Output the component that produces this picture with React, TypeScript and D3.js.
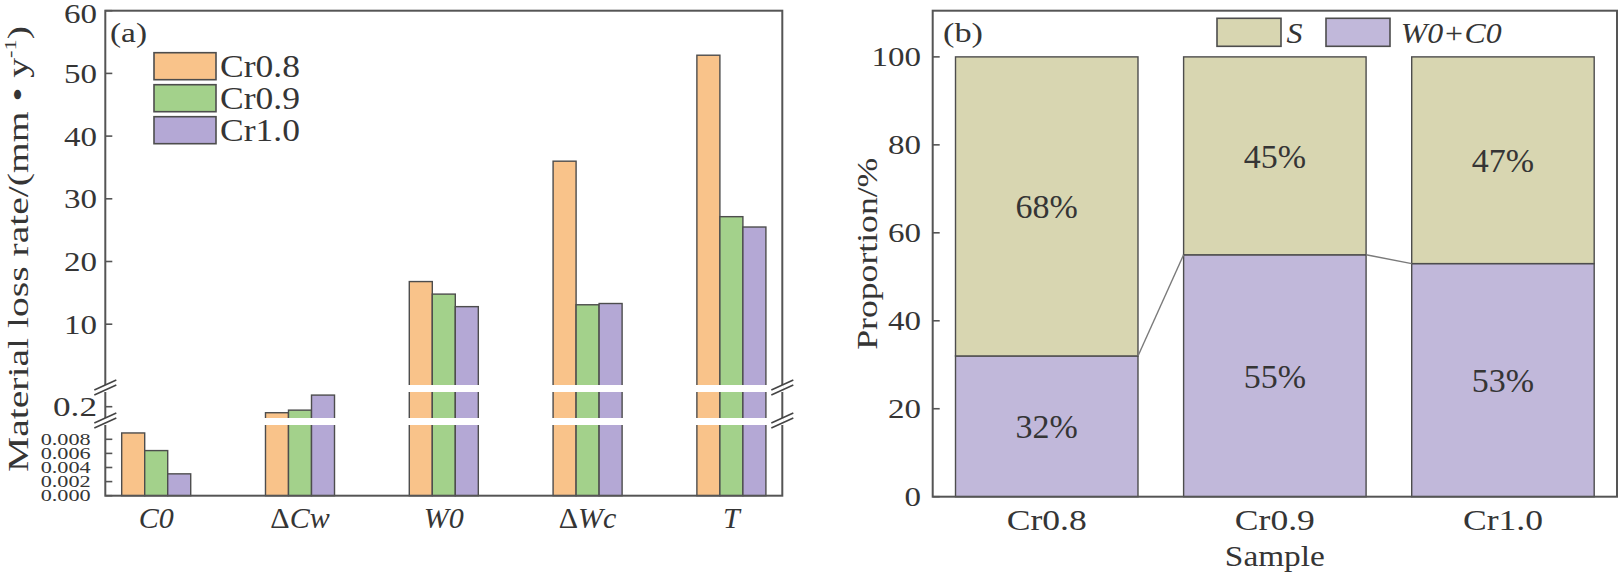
import { useEffect, useRef } from 'react';
import * as d3 from 'd3';

// panel (a) data
const categories = ['C0', 'ΔCw', 'W0', 'ΔWc', 'T'];
const seriesNames = ['Cr0.8', 'Cr0.9', 'Cr1.0'];
const cr08 = [0.0089, 0.186, 16.8, 36.0, 52.9];
const cr09 = [0.0064, 0.192, 14.8, 13.1, 27.15];
const cr10 = [0.0031, 0.227, 12.8, 13.3, 25.5];
const upperTicks = [10, 20, 30, 40, 50, 60];
const middleTicks = [0.2];
const lowerTicks = [0, 0.002, 0.004, 0.006, 0.008];

// panel (b) data
const samples = ['Cr0.8', 'Cr0.9', 'Cr1.0'];
const woPlusCo = [32, 55, 53];
const sPart = [68, 45, 47];
const propTicks = [0, 20, 40, 60, 80, 100];

const FONT = '"Liberation Serif", "Times New Roman", serif';
const INK = '#353535';
const EDGE = '#4d4d4d';
const seriesColors = ['#F9C38A', '#A3D18B', '#B4A8D5'];
const sColor = '#D8D6B1';
const wcColor = '#C1B8DA';

// width of a numeric label in the picture (digits are drawn wide)
const numWidth = (s: string, digit: number, dot: number) =>
  s.split('').reduce((acc, ch) => acc + (ch === '.' ? dot : digit), 0);

const App = () => {
  const ref = useRef<SVGSVGElement | null>(null);

  useEffect(() => {
    if (!ref.current) return;
    document.body.style.margin = '0';
    const svg = d3.select(ref.current).attr('font-family', FONT);
    svg.selectAll('*').remove();

    // ---------- panel (a) ----------
    const aLeft = 105.3, aRight = 782.3, aTop = 10.7, aBottom = 495.7;
    const gapUp = [385, 392];
    const gapLow = [418, 425];

    const yUp = d3.scaleLinear().domain([0, 60]).range([386.9, aTop]);
    const yMid = d3.scaleLinear().domain([0.15, 0.25]).range([428.2, 385.2]);
    const yLow = d3.scaleLinear().domain([0, 0.01]).range([aBottom, 425.2]);
    const yA = (v: number) => (v <= 0.01 ? yLow(v) : v <= 0.3 ? yMid(v) : yUp(v));

    const x0 = d3.scaleBand<string>()
      .domain(categories)
      .range([aLeft, aRight])
      .paddingInner(0.52)
      .paddingOuter(0.114);
    const x1 = d3.scaleBand<string>()
      .domain(seriesNames)
      .range([0, x0.bandwidth()]);

    const seriesValues = [cr08, cr09, cr10];
    const a = svg.append('g').attr('font-family', FONT);

    // bars
    seriesNames.forEach((name, si) => {
      a.append('g')
        .selectAll('rect')
        .data(categories.map((c, i) => ({ c, v: seriesValues[si][i] })))
        .enter()
        .append('rect')
        .attr('x', d => (x0(d.c) || 0) + (x1(name) || 0))
        .attr('y', d => yA(d.v))
        .attr('width', x1.bandwidth())
        .attr('height', d => aBottom - yA(d.v))
        .attr('fill', seriesColors[si])
        .attr('stroke', EDGE)
        .attr('stroke-width', 1.4);
    });

    // frame
    a.append('rect')
      .attr('x', aLeft).attr('y', aTop)
      .attr('width', aRight - aLeft).attr('height', aBottom - aTop)
      .attr('fill', 'none').attr('stroke', '#555').attr('stroke-width', 2);

    // white bands for the axis breaks
    [gapUp, gapLow].forEach(g => {
      a.append('rect')
        .attr('x', aLeft - 1.5).attr('y', g[0])
        .attr('width', aRight - aLeft + 3).attr('height', g[1] - g[0])
        .attr('fill', '#ffffff');
    });

    // break slashes on both sides
    [aLeft, aRight].forEach(xx => {
      [gapUp[0], gapUp[1] - 2, gapLow[0], gapLow[1] - 2].forEach(yy => {
        a.append('line')
          .attr('x1', xx - 11).attr('y1', yy + 5)
          .attr('x2', xx + 11).attr('y2', yy - 5)
          .attr('stroke', '#444').attr('stroke-width', 1.6);
      });
    });

    // y ticks
    const tickA = (yy: number) =>
      a.append('line')
        .attr('x1', aLeft).attr('x2', aLeft + 7)
        .attr('y1', yy).attr('y2', yy)
        .attr('stroke', '#555').attr('stroke-width', 1.6);

    upperTicks.forEach(t => {
      tickA(yUp(t));
      a.append('text')
        .attr('x', 97).attr('y', Math.max(yUp(t), 14)).attr('dy', '0.35em')
        .attr('text-anchor', 'end')
        .attr('font-size', 27)
        .attr('textLength', numWidth(String(t), 16.5, 11))
        .attr('lengthAdjust', 'spacingAndGlyphs')
        .attr('fill', INK)
        .text(String(t));
    });
    middleTicks.forEach(t => {
      tickA(yMid(t));
      a.append('text')
        .attr('x', 97).attr('y', yMid(t)).attr('dy', '0.35em')
        .attr('text-anchor', 'end')
        .attr('font-size', 27)
        .attr('textLength', numWidth(String(t), 16.5, 11))
        .attr('lengthAdjust', 'spacingAndGlyphs')
        .attr('fill', INK)
        .text(String(t));
    });
    lowerTicks.forEach(t => {
      tickA(yLow(t));
      a.append('text')
        .attr('x', 90.7).attr('y', yLow(t)).attr('dy', '0.35em')
        .attr('text-anchor', 'end')
        .attr('font-size', 16)
        .attr('textLength', 50)
        .attr('lengthAdjust', 'spacingAndGlyphs')
        .attr('fill', INK)
        .text(t.toFixed(3));
    });

    // category labels
    categories.forEach(c => {
      const t = a.append('text')
        .attr('x', (x0(c) || 0) + x0.bandwidth() / 2)
        .attr('y', 528)
        .attr('text-anchor', 'middle')
        .attr('font-size', 30)
        .attr('fill', INK);
      if (c.startsWith('Δ')) {
        t.append('tspan').text('Δ');
        t.append('tspan').attr('font-style', 'italic').text(c.slice(1));
      } else {
        t.attr('font-style', 'italic').text(c);
      }
    });

    // y label
    const yl = a.append('text')
      .attr('transform', `translate(28,249) rotate(-90)`)
      .attr('text-anchor', 'middle')
      .attr('font-size', 30)
      .attr('textLength', 446)
      .attr('lengthAdjust', 'spacingAndGlyphs')
      .attr('fill', INK);
    yl.append('tspan').text('Material loss rate/(mm • y');
    yl.append('tspan').attr('font-size', 17).attr('dy', -12).text('-1');
    yl.append('tspan').attr('dy', 12).text(')');

    // panel letter + legend
    a.append('text')
      .attr('x', 110).attr('y', 42)
      .attr('font-size', 28).attr('fill', INK)
      .attr('textLength', 37).attr('lengthAdjust', 'spacingAndGlyphs')
      .text('(a)');

    seriesNames.forEach((name, i) => {
      const top = 52.7 + i * 32;
      a.append('rect')
        .attr('x', 154).attr('y', top)
        .attr('width', 62).attr('height', 27)
        .attr('fill', seriesColors[i])
        .attr('stroke', EDGE).attr('stroke-width', 1.6);
      a.append('text')
        .attr('x', 220).attr('y', top + 13.5).attr('dy', '0.35em')
        .attr('font-size', 31).attr('fill', INK)
        .attr('textLength', 80).attr('lengthAdjust', 'spacingAndGlyphs')
        .text(name);
    });

    // ---------- panel (b) ----------
    const bLeft = 932.7, bRight = 1617, bTop = 10.7, bBottom = 496.7;
    const yB = d3.scaleLinear().domain([0, 110.5]).range([bBottom, bTop]);
    const xB = d3.scaleBand<string>()
      .domain(samples)
      .range([bLeft, bRight])
      .paddingInner(0.2)
      .paddingOuter(0.1);

    const table = samples.map((s, i) => ({ sample: s, woco: woPlusCo[i], s: sPart[i] }));
    const stacked = d3.stack<{ sample: string; woco: number; s: number }>()
      .keys(['woco', 's'])(table);

    const b = svg.append('g').attr('font-family', FONT);
    const layerColors = [wcColor, sColor];

    stacked.forEach((layer, li) => {
      b.append('g')
        .selectAll('rect')
        .data(layer)
        .enter()
        .append('rect')
        .attr('x', d => xB(d.data.sample) || 0)
        .attr('y', d => yB(d[1]))
        .attr('width', xB.bandwidth())
        .attr('height', d => yB(d[0]) - yB(d[1]))
        .attr('fill', layerColors[li])
        .attr('stroke', EDGE)
        .attr('stroke-width', 1.4);

      b.append('g')
        .selectAll('text')
        .data(layer)
        .enter()
        .append('text')
        .attr('x', d => (xB(d.data.sample) || 0) + xB.bandwidth() / 2)
        .attr('y', d => yB((d[0] + d[1]) / 2))
        .attr('dy', '0.35em')
        .attr('text-anchor', 'middle')
        .attr('font-size', 34)
        .attr('fill', INK)
        .text(d => `${d[1] - d[0]}%`);
    });

    // connector lines between the W0+C0 tops
    for (let i = 0; i < samples.length - 1; i++) {
      b.append('line')
        .attr('x1', (xB(samples[i]) || 0) + xB.bandwidth())
        .attr('y1', yB(woPlusCo[i]))
        .attr('x2', xB(samples[i + 1]) || 0)
        .attr('y2', yB(woPlusCo[i + 1]))
        .attr('stroke', '#7a7a7a').attr('stroke-width', 1.4);
    }

    b.append('rect')
      .attr('x', bLeft).attr('y', bTop)
      .attr('width', bRight - bLeft).attr('height', bBottom - bTop)
      .attr('fill', 'none').attr('stroke', '#555').attr('stroke-width', 2);

    propTicks.forEach(t => {
      b.append('line')
        .attr('x1', bLeft).attr('x2', bLeft + 7)
        .attr('y1', yB(t)).attr('y2', yB(t))
        .attr('stroke', '#555').attr('stroke-width', 1.6);
      b.append('text')
        .attr('x', 921).attr('y', yB(t)).attr('dy', '0.35em')
        .attr('text-anchor', 'end')
        .attr('font-size', 27)
        .attr('textLength', numWidth(String(t), 16.5, 11))
        .attr('lengthAdjust', 'spacingAndGlyphs')
        .attr('fill', INK)
        .text(String(t));
    });

    samples.forEach(s => {
      b.append('text')
        .attr('x', (xB(s) || 0) + xB.bandwidth() / 2)
        .attr('y', 530)
        .attr('text-anchor', 'middle')
        .attr('font-size', 30)
        .attr('textLength', 80).attr('lengthAdjust', 'spacingAndGlyphs')
        .attr('fill', INK)
        .text(s);
    });

    b.append('text')
      .attr('x', (bLeft + bRight) / 2).attr('y', 566)
      .attr('text-anchor', 'middle')
      .attr('font-size', 30)
      .attr('textLength', 100).attr('lengthAdjust', 'spacingAndGlyphs')
      .attr('fill', INK)
      .text('Sample');

    b.append('text')
      .attr('transform', `translate(877,${(bTop + bBottom) / 2}) rotate(-90)`)
      .attr('text-anchor', 'middle')
      .attr('font-size', 30)
      .attr('textLength', 192).attr('lengthAdjust', 'spacingAndGlyphs')
      .attr('fill', INK)
      .text('Proportion/%');

    b.append('text')
      .attr('x', 943).attr('y', 42)
      .attr('font-size', 28).attr('fill', INK)
      .attr('textLength', 40).attr('lengthAdjust', 'spacingAndGlyphs')
      .text('(b)');

    // legend (b)
    const legendB = [
      { label: 'S', color: sColor, x: 1217, tx: 1286.5, w: 16 },
      { label: 'W0+C0', color: wcColor, x: 1326, tx: 1400.7, w: 101 },
    ];
    legendB.forEach(l => {
      b.append('rect')
        .attr('x', l.x).attr('y', 18.3)
        .attr('width', 64).attr('height', 28)
        .attr('fill', l.color)
        .attr('stroke', EDGE).attr('stroke-width', 1.6);
      b.append('text')
        .attr('x', l.tx).attr('y', 32.3).attr('dy', '0.35em')
        .attr('font-size', 30).attr('font-style', 'italic')
        .attr('textLength', l.w).attr('lengthAdjust', 'spacingAndGlyphs')
        .attr('fill', INK)
        .text(l.label);
    });
  }, []);

  return (
    <svg
      ref={ref}
      width={1619}
      height={575}
      style={{ display: 'block', background: '#ffffff' }}
    />
  );
};

export default App;
